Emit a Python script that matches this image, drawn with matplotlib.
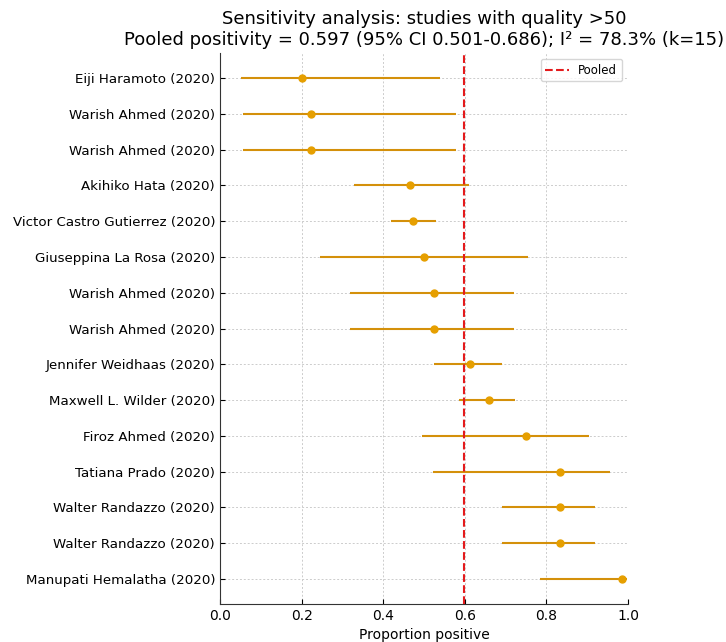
import matplotlib
matplotlib.use("Agg")
import matplotlib.pyplot as plt
import numpy as np

studies = [
    "Eiji Haramoto (2020)", "Warish Ahmed (2020)", "Warish Ahmed (2020)",
    "Akihiko Hata (2020)", "Victor Castro Gutierrez (2020)", "Giuseppina La Rosa (2020)",
    "Warish Ahmed (2020)", "Warish Ahmed (2020)", "Jennifer Weidhaas (2020)",
    "Maxwell L. Wilder (2020)", "Firoz Ahmed (2020)", "Tatiana Prado (2020)",
    "Walter Randazzo (2020)", "Walter Randazzo (2020)", "Manupati Hemalatha (2020)",
]
proportion = [0.200, 0.222, 0.222, 0.466, 0.473, 0.500, 0.525, 0.525, 0.612,
              0.659, 0.750, 0.833, 0.833, 0.833, 0.985]
ci_low = [0.051, 0.057, 0.057, 0.328, 0.418, 0.245, 0.319, 0.319, 0.524,
          0.587, 0.494, 0.523, 0.690, 0.690, 0.784]
ci_high = [0.539, 0.578, 0.578, 0.611, 0.530, 0.756, 0.721, 0.721, 0.692,
           0.723, 0.904, 0.957, 0.919, 0.919, 0.998]
pooled = 0.597

fig = plt.figure(figsize=(7.26, 6.42), dpi=100)
ax = fig.add_axes([0.303, 0.0592, 0.562, 0.8582])

y = np.arange(len(studies))
p = np.array(proportion)
err = np.vstack([p - np.array(ci_low), np.array(ci_high) - p])
ax.errorbar(p, y, xerr=err, fmt='o', color='#E69F00', ecolor='#D4900A',
            elinewidth=1.5, markersize=5, capsize=0, zorder=3)
ax.axvline(pooled, color='#E41A1C', linestyle='--', linewidth=1.5, label='Pooled', zorder=4)

ax.set_yticks(y)
ax.set_yticklabels(studies, fontsize=9.6)
ax.set_ylim(14.7, -0.7)
ax.set_xlim(0, 1.0)
ax.set_xticks([0.0, 0.2, 0.4, 0.6, 0.8, 1.0])
ax.tick_params(axis='x', labelsize=10, direction='in', length=3.5)
ax.tick_params(axis='y', direction='in', length=3.5)
ax.set_xlabel("Proportion positive", fontsize=10)
ax.grid(True, linestyle=(0, (2, 2)), color='#cccccc', linewidth=0.7)
ax.set_axisbelow(True)
for s in ['top', 'right']:
    ax.spines[s].set_visible(False)
ax.spines['left'].set_color('#333333')
ax.spines['bottom'].set_color('#333333')
ax.legend(loc='upper right', fontsize=8.5)
ax.set_title("Sensitivity analysis: studies with quality >50\n"
             "Pooled positivity = 0.597 (95% CI 0.501-0.686); I\u00b2 = 78.3% (k=15)",
             fontsize=13, pad=6)
fig.savefig("out.png", dpi=100)
